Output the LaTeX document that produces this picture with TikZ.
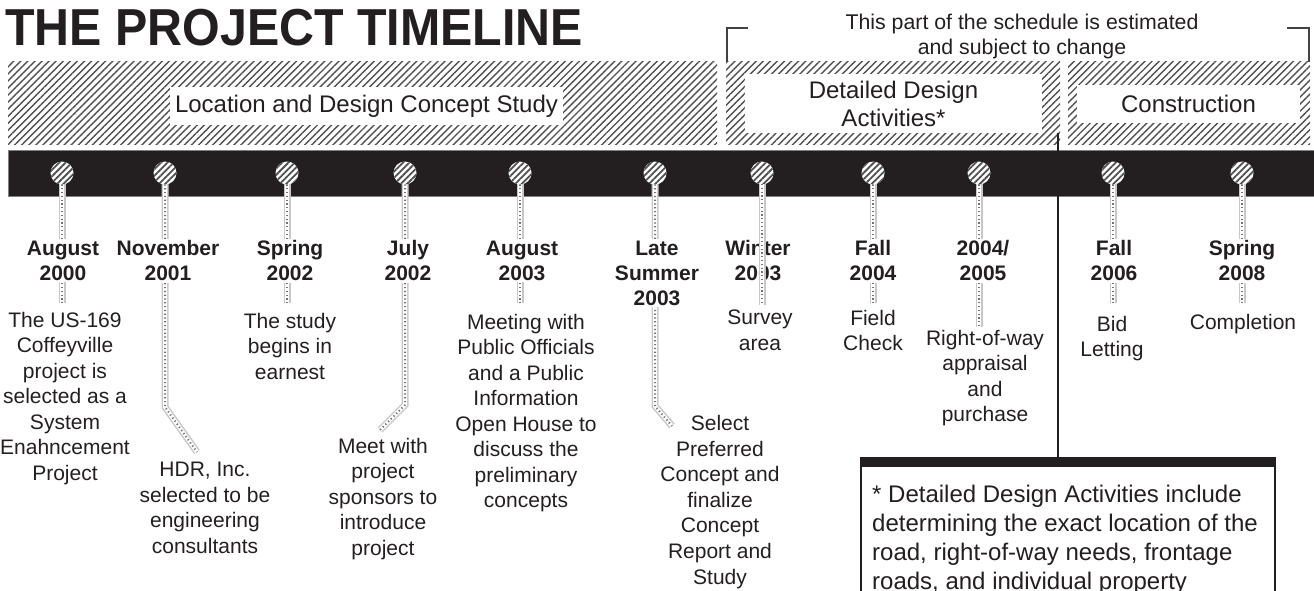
\documentclass[tikz,border=0pt]{standalone}
\usepackage{fontspec}
\setmainfont{Liberation Sans}
\usetikzlibrary{patterns.meta}
\definecolor{ink}{HTML}{231F20}
\definecolor{hatch}{HTML}{505050}
\definecolor{stemgray}{HTML}{C8C8C8}
\pgfdeclarelayer{bg}
\pgfdeclarelayer{stems}
\pgfdeclarelayer{top}
\pgfsetlayers{bg,stems,main,top}
\begin{document}
\begin{tikzpicture}[x=1pt,y=-1pt,
  band/.style={pattern={Lines[angle=45,distance=5pt,line width=1.4pt]},pattern color=hatch},
  bandlabel/.style={fill=white,inner sep=0pt,align=center,font=\fontsize{24}{28}\selectfont,text=ink},
  datelbl/.style={font=\bfseries\fontsize{21}{25}\selectfont,align=center,fill=white,inner sep=2pt,anchor=north,text=ink},
  desc/.style={font=\fontsize{21}{25.5}\selectfont,align=center,inner sep=0pt,anchor=north,text=ink},
  pin/.style={circle,minimum size=23pt,inner sep=0pt,preaction={fill=white},
    pattern={Lines[angle=45,distance=4.5pt,line width=1.8pt]},pattern color=hatch},
  stemA/.style={line width=7pt,draw=stemgray,line join=miter},
  stemB/.style={line width=4pt,draw=white,line join=miter},
  stemC/.style={line width=2pt,draw=hatch!80,dash pattern=on 1.2pt off 2.6pt},
  bracketline/.style={draw=ink!85,line width=1.3pt},
  sepline/.style={draw=ink,line width=2pt}
]
\newcommand\mystem[1]{\draw[stemA] #1; \draw[stemB] #1; \draw[stemC] #1;}
\useasboundingbox (0,0) rectangle (1314,591);

% title
\node[anchor=base west,inner sep=0pt,font=\bfseries\fontsize{52}{52}\selectfont,text=ink] (title) at (5,46) {\scalebox{0.93}[1]{THE PROJECT TIMELINE}};

% bracket and note above
\node[font=\fontsize{21.3}{25}\selectfont,align=center,inner sep=0pt,text=ink] (estnote) at (1022,36) {This part of the schedule is estimated\\and subject to change};
\coordinate (brL) at (727,62);
\coordinate (brR) at (1309,62);
\draw[bracketline] (brL) -- ++(0,-34) -- ++(21,0);
\draw[bracketline] (brR) -- ++(0,-34) -- ++(-22,0);

\begin{pgfonlayer}{bg}
  \path[band] (8,62) rectangle (717,145);
  \path[band] (726,62) rectangle (1060,145);
  \path[band] (1068,62) rectangle (1310,145);
  \draw[draw=gray,fill=ink,line width=1pt] (8,150) rectangle (1330,196);
\end{pgfonlayer}

% band labels
\node[bandlabel,minimum width=393pt,minimum height=38pt] (lbl1) at (366.5,106) {Location and Design Concept Study};
\node[bandlabel,minimum width=297pt,minimum height=59pt] (lbl2) at (893.5,103.5) {Detailed Design\\Activities*};
\node[bandlabel,minimum width=223pt,minimum height=38pt] (lbl3) at (1188.5,104) {Construction};

% pins
\foreach \i/\x in {1/62,2/165,3/287,4/405,5/520,6/655,7/762,8/873,9/979,10/1113,11/1242}{
  \node[pin] (p\i) at (\x,173) {};
}

% stem end points
\coordinate (e1) at (62,303);
\coordinate (b2) at (165,407); \coordinate (e2) at (197,452);
\coordinate (e3) at (287,303);
\coordinate (b4) at (405,405); \coordinate (e4) at (380,430);
\coordinate (e5) at (520,303);
\coordinate (b6) at (655,406); \coordinate (e6) at (672,426);
\coordinate (e7) at (762,305);
\coordinate (e8) at (873,303);
\coordinate (e9) at (979,327);
\coordinate (e10) at (1113,303);
\coordinate (e11) at (1242,303);

\begin{pgfonlayer}{stems}
  \mystem{(p1.center) -- (e1)}
  \mystem{(p2.center) -- (b2) -- (e2)}
  \mystem{(p3.center) -- (e3)}
  \mystem{(p4.center) -- (b4) -- (e4)}
  \mystem{(p5.center) -- (e5)}
  \mystem{(p6.center) -- (b6) -- (e6)}
  \mystem{(p8.center) -- (e8)}
  \mystem{(p9.center) -- (e9)}
  \mystem{(p10.center) -- (e10)}
  \mystem{(p11.center) -- (e11)}
\end{pgfonlayer}
\begin{pgfonlayer}{top}
  \mystem{([yshift=-11pt]p7.center) -- (e7)}
\end{pgfonlayer}
\begin{pgfonlayer}{stems}
  \mystem{(p7.center) -- ([yshift=11pt]p7.center)}
\end{pgfonlayer}

% date labels
\node[datelbl] (d1) at (63,238.5) {August\\2000};
\node[datelbl] (d2) at (168,238.5) {November\\2001};
\node[datelbl] (d3) at (290,238.5) {Spring\\2002};
\node[datelbl] (d4) at (408,238.5) {July\\2002};
\node[datelbl] (d5) at (522,238.5) {August\\2003};
\node[datelbl] (d6) at (657,238.5) {Late\\Summer\\2003};
\node[datelbl,fill=none] (d7) at (758,238.5) {Winter\\2003};
\node[datelbl] (d8) at (873,238.5) {Fall\\2004};
\node[datelbl] (d9) at (983,238.5) {2004/\\2005};
\node[datelbl] (d10) at (1114,238.5) {Fall\\2006};
\node[datelbl] (d11) at (1242,238.5) {Spring\\2008};

% descriptions
\node[desc] (t1) at (65,312) {The US-169\\Coffeyville\\project is\\selected as a\\System\\Enahncement\\Project};
\node[desc] (t2) at (205,462) {HDR, Inc.\\selected to be\\engineering\\consultants};
\node[desc] (t3) at (290,313) {The study\\begins in\\earnest};
\node[desc] (t4) at (383,438) {Meet with\\project\\sponsors to\\introduce\\project};
\node[desc] (t5) at (526,314) {Meeting with\\Public Officials\\and a Public\\Information\\Open House to\\discuss the\\preliminary\\concepts};
\node[desc,font=\fontsize{21}{25.6}\selectfont] (t6) at (720,415) {Select\\Preferred\\Concept and\\finalize\\Concept\\Report and\\Study};
\node[desc] (t7) at (760,310) {Survey\\area};
\node[desc] (t8) at (873,310) {Field\\Check};
\node[desc] (t9) at (985,330) {Right-of-way\\appraisal\\and\\purchase};
\node[desc] (t10) at (1112,316) {Bid\\Letting};
\node[desc] (t11) at (1243,314) {Completion};

% note box
\node[draw=ink,line width=2pt,fill=white,anchor=north west,minimum width=414pt,minimum height=170pt,inner sep=0pt] (note) at (860,457) {};
\fill[ink] (note.north west) rectangle ([yshift=-10pt]note.north east);
\node[anchor=north west,inner sep=0pt,align=left,font=\fontsize{24}{29}\selectfont,text=ink] (notetext) at (872,485) {* Detailed Design Activities include\\determining the exact location of the\\road, right-of-way needs, frontage\\roads, and individual property};

% separator
\coordinate (septop) at (1058,133);
\draw[sepline] (septop) -- (septop |- note.north);
\end{tikzpicture}
\end{document}
